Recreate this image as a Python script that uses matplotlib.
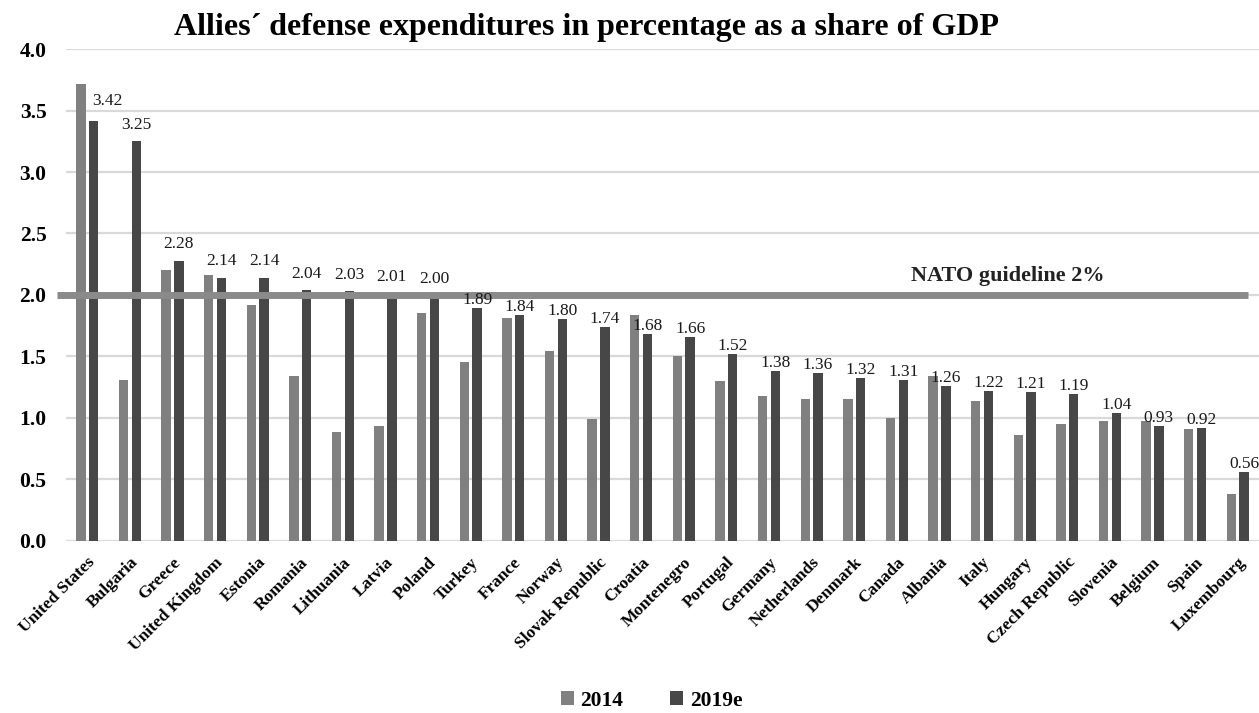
import numpy as np
import matplotlib
matplotlib.use("Agg")
import matplotlib.pyplot as plt
from matplotlib.transforms import ScaledTranslation

# Data
countries = ["United States", "Bulgaria", "Greece", "United Kingdom", "Estonia",
             "Romania", "Lithuania", "Latvia", "Poland", "Turkey", "France",
             "Norway", "Slovak Republic", "Croatia", "Montenegro", "Portugal",
             "Germany", "Netherlands", "Denmark", "Canada", "Albania", "Italy",
             "Hungary", "Czech Republic", "Slovenia", "Belgium", "Spain",
             "Luxembourg"]
vals_2014 = [3.72, 1.31, 2.20, 2.16, 1.92, 1.34, 0.88, 0.93, 1.85, 1.45, 1.81,
             1.54, 0.99, 1.84, 1.50, 1.30, 1.18, 1.15, 1.15, 1.00, 1.34, 1.14,
             0.86, 0.95, 0.97, 0.97, 0.91, 0.38]
vals_2019 = [3.42, 3.25, 2.28, 2.14, 2.14, 2.04, 2.03, 2.01, 2.00, 1.89, 1.84,
             1.80, 1.74, 1.68, 1.66, 1.52, 1.38, 1.36, 1.32, 1.31, 1.26, 1.22,
             1.21, 1.19, 1.04, 0.93, 0.92, 0.56]
series_names = ["2014", "2019e"]
guideline = 2.0

plt.rcParams['font.family'] = ['Liberation Serif', 'DejaVu Serif']

fig = plt.figure(figsize=(12.59, 7.13), dpi=100)
ax = fig.add_axes([0.0524, 0.2419, 0.9476, 0.689])

x = np.arange(len(countries))
w = 0.22
ax.bar(x - 0.15, vals_2014, w, color="#808080", label=series_names[0], zorder=2)
ax.bar(x + 0.15, vals_2019, w, color="#474747", label=series_names[1], zorder=2)

# NATO guideline (starts a little left of the plot area)
ax.hlines(guideline, -0.72, 27.24, color="#8a8a8a", lw=5, zorder=3, clip_on=False)
ax.text(21.6, 2.11, "NATO guideline 2%", ha="center", va="baseline",
        fontsize=16, fontweight="bold", color="#222222", zorder=4)

# value labels on the 2019 bars
for xi, v14, v in zip(x, vals_2014, vals_2019):
    dx, dy = 0, 0
    if v >= guideline:
        dy = 6
    if v14 - v > 0.25:
        dx, dy = 10, 8
    ax.annotate(f"{v:.2f}", (xi + 0.15, v), xytext=(dx, dy),
                textcoords="offset points", ha="center", va="bottom",
                fontsize=12.5, color="#1a1a1a", zorder=4)

ax.set_xlim(-0.5, 27.5)
ax.set_ylim(0, 4.0)
yt = np.arange(0, 4.01, 0.5)
ax.set_yticks(yt)
ax.set_yticklabels([f"{t:.1f}" for t in yt], fontsize=15.5, fontweight="bold")
ax.set_xticks(x)
ax.set_xticklabels(countries, rotation=45, ha="right", rotation_mode="anchor",
                   fontsize=12.5, fontweight="bold")
shift = ScaledTranslation(3 / 100, 0, fig.dpi_scale_trans)
for lab in ax.get_xticklabels():
    lab.set_transform(lab.get_transform() + shift)
ax.tick_params(axis="both", length=0)
ax.tick_params(axis="y", pad=14)
ax.tick_params(axis="x", pad=10)
ax.yaxis.grid(True, color="#d9d9d9", lw=1.6, zorder=0)
ax.set_axisbelow(True)
for s in ax.spines.values():
    s.set_visible(False)

fig.text(0.466, 0.951, "Allies\u00b4 defense expenditures in percentage as a share of GDP",
         ha="center", va="baseline", fontsize=23, fontweight="bold")

fig.legend(loc="center", bbox_to_anchor=(0.5175, 0.017), ncol=2, frameon=False,
           handlelength=0.6, handleheight=0.6, handletextpad=0.3, columnspacing=2.2,
           prop={"size": 15.5, "weight": "bold"})

plt.savefig("out.png", dpi=100)
